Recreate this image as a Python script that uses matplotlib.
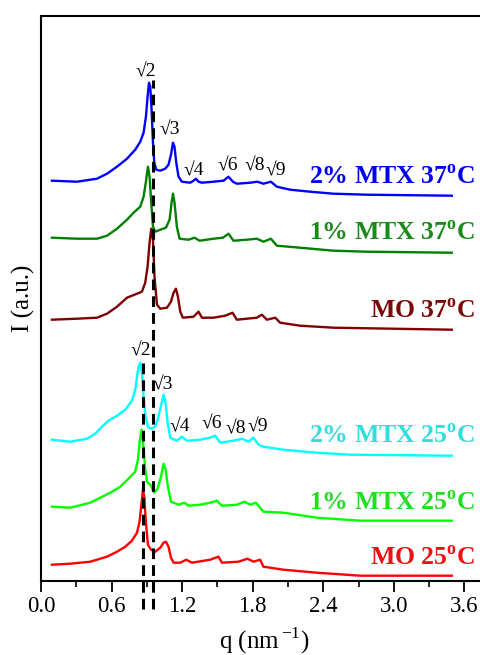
import matplotlib
matplotlib.use("Agg")
import matplotlib.pyplot as plt

plt.rcParams['font.family'] = ['Liberation Serif', 'DejaVu Serif']
plt.rcParams['mathtext.fontset'] = 'custom'
plt.rcParams['mathtext.rm'] = 'Liberation Serif'
plt.rcParams['mathtext.bf'] = 'Liberation Serif:bold'

# SAXS profiles, intensity in arbitrary units (already offset for stacking)
q_mtx2_37 = [0.093, 0.306, 0.476, 0.561, 0.646, 0.731, 0.801, 0.844, 0.872, 0.892,
             0.906, 0.918, 0.929, 0.940, 0.952, 0.963, 0.980, 1.014, 1.056, 1.084,
             1.105, 1.122, 1.135, 1.150, 1.169, 1.198, 1.268, 1.297, 1.317, 1.339,
             1.368, 1.467, 1.551, 1.594, 1.631, 1.665, 1.778, 1.840, 1.891, 1.954,
             2.005, 2.118, 2.288, 2.486, 2.770, 3.492]
i_mtx2_37 = [400, 399, 402, 407, 414, 422, 431, 439, 448, 464,
             484, 498, 494, 471, 438, 418, 411, 410, 412, 416,
             426, 438, 434, 418, 404, 399, 398, 400, 402, 399,
             398, 399, 400, 404, 399, 397, 398, 399, 397, 399,
             394, 391, 389, 387, 386, 385]

q_mtx1_37 = [0.093, 0.306, 0.476, 0.561, 0.646, 0.731, 0.787, 0.844, 0.872, 0.892,
             0.909, 0.923, 0.937, 0.952, 0.971, 1.014, 1.062, 1.093, 1.110, 1.122,
             1.135, 1.155, 1.178, 1.254, 1.305, 1.348, 1.467, 1.546, 1.594, 1.636,
             1.750, 1.835, 1.891, 1.954, 2.005, 2.203, 2.486, 2.770, 3.492]
i_mtx1_37 = [343, 342, 342, 345, 352, 361, 368, 374, 384, 399,
             414, 404, 378, 354, 349, 351, 353, 361, 378, 387,
             378, 354, 342, 341, 343, 340, 342, 343, 347, 340,
             341, 342, 339, 342, 335, 333, 330, 329, 328]

q_mo_37 = [0.093, 0.306, 0.476, 0.561, 0.646, 0.731, 0.816, 0.858, 0.886, 0.906,
           0.923, 0.937, 0.952, 0.965, 0.986, 1.014, 1.071, 1.105, 1.127, 1.147,
           1.164, 1.184, 1.206, 1.297, 1.339, 1.368, 1.467, 1.566, 1.628, 1.665,
           1.750, 1.835, 1.878, 1.920, 1.991, 2.033, 2.203, 2.486, 3.492]
i_mo_37 = [261, 262, 263, 267, 274, 283, 287, 289, 298, 314,
           338, 352, 341, 304, 276, 272, 273, 279, 288, 292,
           284, 269, 263, 264, 269, 263, 263, 265, 268, 261,
           262, 263, 266, 261, 263, 258, 255, 253, 251]

q_mtx2_25 = [0.093, 0.249, 0.391, 0.461, 0.518, 0.574, 0.646, 0.716, 0.773, 0.801,
             0.816, 0.829, 0.844, 0.858, 0.872, 0.889, 0.909, 0.935, 0.971, 0.999,
             1.022, 1.042, 1.059, 1.076, 1.099, 1.155, 1.198, 1.240, 1.353, 1.438,
             1.481, 1.523, 1.636, 1.708, 1.764, 1.807, 1.849, 1.891, 2.061, 2.345,
             2.628, 3.492]
i_mtx2_25 = [141, 139, 142, 147, 154, 160, 165, 171, 180, 191,
             204, 214, 218, 208, 184, 164, 154, 152, 154, 164,
             176, 186, 178, 158, 143, 140, 144, 140, 141, 143,
             145, 138, 140, 142, 139, 143, 136, 134, 131, 128,
             126, 125]

q_mtx1_25 = [0.093, 0.249, 0.419, 0.504, 0.589, 0.674, 0.744, 0.801, 0.824, 0.838,
             0.855, 0.869, 0.884, 0.901, 0.929, 0.963, 0.991, 1.020, 1.042, 1.059,
             1.079, 1.105, 1.169, 1.220, 1.254, 1.353, 1.438, 1.495, 1.538, 1.665,
             1.730, 1.778, 1.827, 1.891, 2.061, 2.345, 2.713, 3.492]
i_mtx1_25 = [74, 73, 78, 83, 88, 94, 102, 109, 121, 138,
             151, 138, 114, 99, 96, 88, 92, 104, 117, 111,
             94, 79, 76, 78, 75, 76, 78, 80, 75, 76,
             79, 76, 78, 69, 68, 63, 60, 60]

q_mo_25 = [0.093, 0.249, 0.419, 0.561, 0.646, 0.716, 0.773, 0.816, 0.838, 0.855,
           0.867, 0.878, 0.892, 0.909, 0.935, 0.971, 1.014, 1.042, 1.062, 1.084,
           1.105, 1.127, 1.184, 1.235, 1.283, 1.438, 1.509, 1.538, 1.679, 1.755,
           1.807, 1.863, 1.891, 2.061, 2.345, 2.713, 3.492]
i_mo_25 = [16, 17, 19, 24, 29, 34, 40, 48, 59, 78,
           91, 84, 58, 36, 31, 29, 33, 38, 39, 34,
           23, 18, 18, 21, 18, 21, 24, 18, 19, 22,
           19, 21, 14, 11, 8, 5, 5]

labels = ["2% MTX 37", "1% MTX 37", "MO 37", "2% MTX 25", "1% MTX 25", "MO 25"]
label_y = [403, 347, 269, 144, 77, 22]
line_colors = ["#0000ff", "#008000", "#800000", "#00ffff", "#00ff00", "#ff0000"]
text_colors = ["#0000ee", "#1a8a1a", "#7a0a0a", "#33dddd", "#22dd22", "#ee1111"]

# Bragg peak markers (q, intensity) for the two 2% MTX profiles
root_labels = ["√2", "√3", "√4", "√6", "√8", "√9"]
root_q_37 = [0.892, 1.098, 1.297, 1.589, 1.821, 1.996]
root_i_37 = [509, 451, 410, 415, 415, 410]
root_q_25 = [0.852, 1.033, 1.183, 1.453, 1.657, 1.844]
root_i_25 = [230, 196, 154, 157, 152, 154]

# dashed guides at the sqrt(2) peak positions
guide_q = [0.867, 0.951]
guide_top = [219, 501]
guide_bottom = -28

curves = [(q_mtx2_37, i_mtx2_37), (q_mtx1_37, i_mtx1_37), (q_mo_37, i_mo_37),
          (q_mtx2_25, i_mtx2_25), (q_mtx1_25, i_mtx1_25), (q_mo_25, i_mo_25)]

fig = plt.figure(figsize=(4.8, 6.55), dpi=100)
ax = fig.add_axes([41 / 480, 74.3 / 655, 447 / 480, 565 / 655])

for (q, inten), c in zip(curves, line_colors):
    ax.plot(q, inten, color=c, lw=1.7, solid_joinstyle="round")

for gq, top in zip(guide_q, guide_top):
    ax.plot([gq, gq], [guide_bottom, top], color="black", lw=2.2,
            linestyle=(0, (3.5, 2)), clip_on=False, zorder=5)

for lab, y, c in zip(labels, label_y, text_colors):
    ax.text(3.69, y, lab + r"$^{\mathbf{o}}$C", color=c, fontsize=18.5, fontweight="bold",
            ha="right", va="center")

for lab, q, y in zip(root_labels, root_q_37, root_i_37):
    ax.text(q, y, lab, fontsize=14, ha="center", va="center")
for lab, q, y in zip(root_labels, root_q_25, root_i_25):
    ax.text(q, y, lab, fontsize=14, ha="center", va="center")

ax.set_xlim(0, 3.8)
ax.set_ylim(0, 565)
ax.set_xticks([0.0, 0.6, 1.2, 1.8, 2.4, 3.0, 3.6])
ax.set_xticks([0.3, 0.9, 1.5, 2.1, 2.7, 3.3], minor=True)
ax.set_xticklabels(["0.0", "0.6", "1.2", "1.8", "2.4", "3.0", "3.6"])
ax.set_yticks([])
ax.tick_params(axis="x", which="major", direction="out", length=8, width=1.3,
               labelsize=16.5, pad=3)
ax.tick_params(axis="x", which="minor", direction="out", length=4, width=1.2)
for sp in ax.spines.values():
    sp.set_linewidth(1.5)

ax.set_xlabel(r"q (nm$^{\,\mathrm{-1}}$)", fontsize=18, labelpad=6)
ax.set_ylabel("I (a.u.)", fontsize=18, labelpad=4)

fig.savefig("out.png", dpi=100)
